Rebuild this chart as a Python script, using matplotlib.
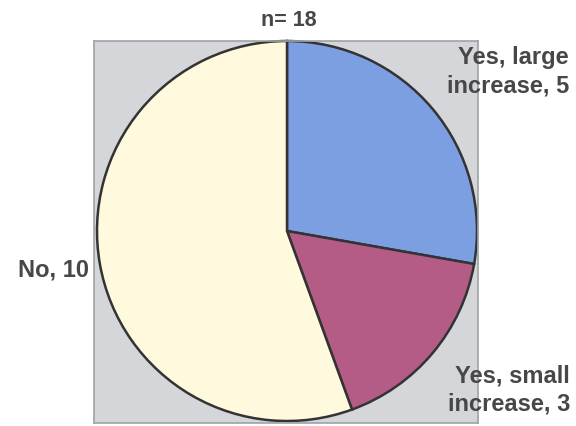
import matplotlib
matplotlib.use("Agg")
import matplotlib.pyplot as plt

# data
categories = ["Yes, large\nincrease", "Yes, small\nincrease", "No"]
counts = [5, 3, 10]
colors = ["#7c9fe2", "#b45c86", "#fff9dd"]
total = sum(counts)

W, H = 576, 426
fig = plt.figure(figsize=(W / 100, H / 100), dpi=100)
fig.patch.set_facecolor("white")

# plot box in pixel units (left, top, right, bottom)
bl, bt, br, bb = 94, 41, 478, 423
ax = fig.add_axes([bl / W, 1 - bb / H, (br - bl) / W, (bb - bt) / H])

cx, cy, r = 287, H - 231, 190
ax.pie(counts, colors=colors, startangle=90, counterclock=False,
       center=(cx, cy), radius=r, frame=True,
       wedgeprops=dict(edgecolor="#333333", linewidth=1.8))
ax.set_xlim(bl, br)
ax.set_ylim(H - bb, H - bt)
ax.set_aspect("auto")
ax.set_xticks([])
ax.set_yticks([])
ax.set_facecolor("#d4d6da")
for s in ax.spines.values():
    s.set_color("#a0a3a6")
    s.set_linewidth(1.2)

font = dict(family=["Liberation Sans", "DejaVu Sans"], fontweight="bold",
            color="#474747")

fig.text(289 / W, 1 - 20 / H, f"n= {total}", ha="center", va="center",
         fontsize=15.5, **font)

label_pos = [(569, 72, "right"), (570, 390, "right"), (89, 270, "right")]
for cat, n, (x, y, ha) in zip(categories, counts, label_pos):
    fig.text(x / W, 1 - y / H, f"{cat}, {n}", ha=ha, va="center",
             fontsize=17, linespacing=1.32, **font)

fig.savefig("out.png", dpi=100)
